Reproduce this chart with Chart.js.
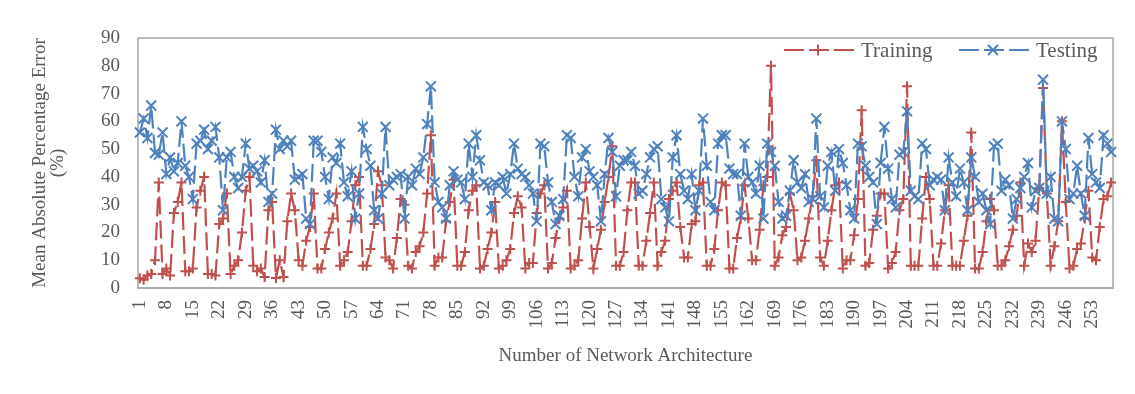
<!DOCTYPE html>
<html>
<head>
<meta charset="utf-8">
<script src="https://cdn.jsdelivr.net/npm/chart.js@4.4.1/dist/chart.umd.min.js"></script>
<style>
  html, body { margin: 0; padding: 0; background: #ffffff; }
  #wrap { width: 1135px; height: 394px; position: relative; }
</style>
</head>
<body>
<div id="wrap"><canvas id="chart" width="1135" height="394"></canvas></div>
<script>
// Network architectures 1..258
const architectures = Array.from({ length: 258 }, (_, i) => String(i + 1));

// Mean absolute percentage error (%) per architecture
const trainingMAPE = [
  3.5, 3, 4.5, 5, 10, 38, 5, 7, 4.5, 27,
  31, 38, 6, 6, 7, 29, 35, 40, 5, 5,
  4.5, 23, 25, 34, 5, 8, 10, 20, 35, 40,
  8, 6, 7, 4, 28, 31, 3.6, 10, 4, 24,
  34, 28, 10, 8, 17, 22, 34, 7, 7, 14,
  20, 25, 34, 8, 10, 13, 24, 37, 40, 8,
  8, 14, 23, 42, 37, 11, 10, 7, 18, 32,
  30, 8, 7, 13, 15, 20, 34, 55, 8, 11,
  11, 24, 31, 39, 8, 8, 13, 28, 35, 37,
  7, 8, 14, 20, 31, 7, 8, 10, 14, 27,
  33, 29, 7, 9, 9, 27, 34, 37, 7, 9,
  18, 25, 29, 35, 7, 8, 10, 25, 38, 22,
  7, 14, 21, 31, 40, 51, 8, 8, 13, 28,
  38, 38, 8, 8, 17, 27, 38, 8, 13, 17,
  32, 35, 38, 22, 11, 11, 23, 24, 37, 38,
  8, 8, 14, 28, 38, 37, 7, 7, 18, 25,
  37, 25, 10, 10, 21, 37, 40, 80, 8, 11,
  19, 22, 34, 28, 10, 11, 17, 25, 33, 46,
  11, 8, 17, 28, 37, 38, 7, 10, 10, 19,
  32, 64, 8, 9, 21, 26, 34, 34, 7, 9,
  13, 28, 32, 72.6, 8, 8, 8, 25, 40, 32,
  8, 8, 16, 28, 37, 8, 8, 8, 17, 26,
  56, 7, 7, 13, 24, 32, 28, 8, 8, 10,
  15, 21, 26, 38, 8, 16, 13, 17, 36, 72,
  34, 8, 15, 24, 60, 31, 7, 8, 14, 16,
  25, 35, 11, 10, 22, 32, 33, 38
];

const testingMAPE = [
  56, 61, 54, 65.7, 48.6, 48, 56, 41, 47, 42,
  45, 60, 44, 40, 32, 52, 53, 57, 50, 53,
  58, 47, 28, 47, 49, 40, 36, 40, 52, 43,
  44, 42, 38, 46, 31, 34, 57, 50, 53, 51,
  53, 39, 40, 41, 25, 23, 53, 53, 49, 40,
  32, 47, 45, 52, 38, 33, 42, 25, 34, 58,
  50, 44, 28, 25, 34, 58, 37, 39, 40, 41,
  25, 40, 37, 43, 41, 47, 59, 72.6, 38, 31,
  29, 25, 37, 42, 39, 38, 32, 52, 40, 55,
  46, 38, 37, 28, 38, 37, 40, 34, 41, 52,
  43, 41, 40, 37, 34, 24, 52, 51, 38, 31,
  23, 26, 32, 55, 54, 40, 33, 47, 50, 42,
  40, 37, 24, 41, 54, 49, 33, 44, 46, 46,
  49, 44, 34, 35, 41, 47, 50, 51, 32, 29,
  24, 47, 55, 41, 35, 32, 41, 28, 35, 61,
  44, 31, 28, 52, 55, 55, 43, 41, 41, 26,
  52, 40, 38, 34, 44, 25, 52, 49, 44, 31,
  25, 26, 35, 46, 38, 36, 41, 31, 32, 61,
  33, 29, 44, 49, 35, 50, 45, 37, 28, 25,
  52, 51, 44, 40, 38, 23, 45, 58, 43, 32,
  29, 48, 49, 63.6, 35, 33, 32, 52, 50, 37,
  39, 40, 39, 28, 47, 38, 33, 43, 38, 28,
  47, 40, 31, 34, 28, 23, 51, 52, 35, 39,
  37, 25, 32, 36, 40, 45, 29, 35, 36, 75,
  34, 40, 25, 24, 60, 50, 32, 34, 44, 34,
  26, 54, 41, 38, 36, 55, 52, 49
];

// Axis settings
const yMin = 0, yMax = 90, yStep = 10;
const xLabelEvery = 7;

const RED = '#C0504D';
const BLUE = '#4F81BD';
const TEXT = '#595959';
const FONT = "'Liberation Serif', 'Times New Roman', serif";
const DASH = [18, 6];

// Draw a series marker centred on (x, y)
function drawMarker(g, kind, x, y) {
  g.beginPath();
  if (kind === 'cross') {
    g.moveTo(x, y - 5.5); g.lineTo(x, y + 5.5);
    g.moveTo(x - 5.5, y); g.lineTo(x + 5.5, y);
  } else {
    g.moveTo(x - 5, y - 5); g.lineTo(x + 5, y + 5);
    g.moveTo(x + 5, y - 5); g.lineTo(x - 5, y + 5);
  }
  g.stroke();
}

// Legend inside the plot, top right: dashed sample, marker, label
const insideLegend = {
  id: 'insideLegend',
  afterDatasetsDraw(chart) {
    const { ctx } = chart;
    const items = [
      { x: 784, ds: chart.data.datasets[0], marker: 'cross' },
      { x: 959, ds: chart.data.datasets[1], marker: 'crossRot' }
    ];
    const y = 50;
    ctx.save();
    items.forEach(it => {
      ctx.strokeStyle = it.ds.borderColor;
      ctx.lineWidth = 2.2;
      ctx.setLineDash([20, 5]);
      ctx.beginPath(); ctx.moveTo(it.x, y); ctx.lineTo(it.x + 70, y); ctx.stroke();
      ctx.setLineDash([]);
      ctx.lineWidth = 2;
      drawMarker(ctx, it.marker, it.x + 34, y);
      ctx.fillStyle = TEXT;
      ctx.font = '21px ' + FONT;
      ctx.textAlign = 'left';
      ctx.textBaseline = 'middle';
      ctx.fillText(it.ds.label, it.x + 77, y + 1);
    });
    ctx.restore();
  }
};

// Grey frame around the plotting area
const plotFrame = {
  id: 'plotFrame',
  beforeDatasetsDraw(chart) {
    const { ctx, chartArea: a } = chart;
    ctx.save();
    ctx.strokeStyle = '#a6a6a6';
    ctx.lineWidth = 1.5;
    ctx.strokeRect(a.left, a.top, a.right - a.left, a.bottom - a.top);
    ctx.restore();
  }
};

Chart.defaults.font.family = FONT;
Chart.defaults.color = TEXT;

new Chart(document.getElementById('chart'), {
  type: 'line',
  data: {
    labels: architectures,
    datasets: [
      {
        label: 'Training',
        data: trainingMAPE,
        borderColor: RED,
        backgroundColor: RED,
        borderWidth: 2.2,
        borderDash: DASH,
        pointStyle: 'cross',
        pointRadius: 5,
        pointBorderWidth: 2,
        pointBorderColor: RED,
        tension: 0,
        order: 1
      },
      {
        label: 'Testing',
        data: testingMAPE,
        borderColor: BLUE,
        backgroundColor: BLUE,
        borderWidth: 2.2,
        borderDash: DASH,
        pointStyle: 'crossRot',
        pointRadius: 7,
        pointBorderWidth: 2,
        pointBorderColor: BLUE,
        tension: 0,
        order: 0
      }
    ]
  },
  options: {
    responsive: false,
    animation: false,
    devicePixelRatio: 1,
    layout: { padding: { left: 25, right: 22, top: 38, bottom: 0 } },
    plugins: {
      tooltip: { enabled: false },
      legend: { display: false }
    },
    scales: {
      x: {
        type: 'category',
        offset: true,
        grid: { display: false, drawTicks: false },
        border: { display: true, color: '#c8c8c8', width: 2 },
        ticks: {
          autoSkip: false,
          minRotation: 90,
          maxRotation: 90,
          padding: 12,
          color: TEXT,
          font: { size: 19, family: FONT },
          callback(value, index) {
            return index % xLabelEvery === 0 ? architectures[index] : '';
          }
        },
        title: {
          display: true,
          text: 'Number of Network Architecture',
          color: TEXT,
          font: { size: 19, family: FONT },
          padding: { top: 0, bottom: 27 }
        },
        afterFit(scale) {
          scale.height = 106;
          scale.paddingLeft = 0;
          scale.paddingRight = 0;
        }
      },
      y: {
        min: yMin,
        max: yMax,
        grid: { display: false, drawTicks: false },
        border: { display: false },
        ticks: {
          stepSize: yStep,
          padding: 18,
          color: TEXT,
          font: { size: 19, family: FONT }
        },
        title: {
          display: true,
          text: ['Mean Absolute Percentage Error', '(%)'],
          color: TEXT,
          font: { size: 19, family: FONT, lineHeight: 0.95 },
          padding: { top: 6, bottom: 0 }
        },
        afterFit(scale) {
          scale.width = 113;
          scale.paddingTop = 0;
          scale.paddingBottom = 0;
        }
      }
    }
  },
  plugins: [plotFrame, insideLegend]
});
</script>
</body>
</html>
